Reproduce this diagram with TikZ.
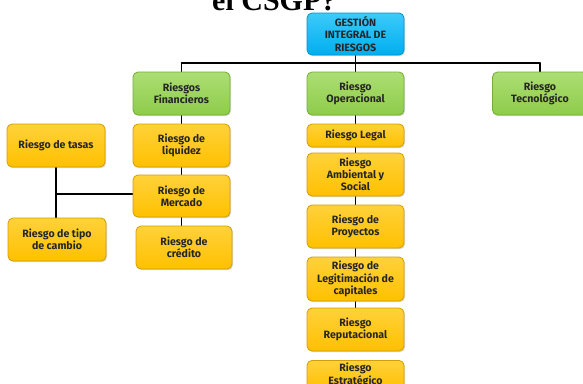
\documentclass[tikz,border=0pt]{standalone}
\usepackage{fontspec}
\setmainfont{Liberation Serif}
\newfontfamily\cajafont{Fira Sans}
\usetikzlibrary{shadows}
\definecolor{azulA}{HTML}{3CCBFA}
\definecolor{azulB}{HTML}{00AEEF}
\definecolor{azulC}{HTML}{0095CC}
\definecolor{verdeA}{HTML}{ACDE74}
\definecolor{verdeB}{HTML}{8ECC4A}
\definecolor{verdeC}{HTML}{74AE34}
\definecolor{amaA}{HTML}{FFD23A}
\definecolor{amaB}{HTML}{FFC000}
\definecolor{amaC}{HTML}{D49E00}
\begin{document}
\begin{tikzpicture}[x=1pt,y=-1pt,line join=round,line cap=round,
	caja/.style={rounded corners=5pt,line width=0.8pt,align=center,inner sep=1pt,
		minimum width=97pt,minimum height=43pt,text=black!85,
		font=\cajafont\bfseries\fontsize{10.6}{12.2}\selectfont,
		drop shadow={opacity=0.3,shadow xshift=1pt,shadow yshift=-1.2pt}},
	azul/.style={caja,draw=azulC,top color=azulA,bottom color=azulB},
	verde/.style={caja,draw=verdeC,top color=verdeA,bottom color=verdeB},
	amarillo/.style={caja,draw=amaC,top color=amaA,bottom color=amaB},
	linea/.style={line width=1.4pt,black}]
	\useasboundingbox (0,0) rectangle (583,383);
	\def\bus{63}
	% titulo (cortado arriba)
	\node[anchor=base west,inner sep=0pt,font=\fontsize{30}{31}\selectfont\bfseries] (titulo) at (212,10) {el CSGP?};
	% lineas
	\coordinate (bi) at (181.5,\bus);
	\coordinate (bd) at (540,\bus);
	\coordinate (bc) at (355.5,\bus);
	\draw[linea] (bi)--(bd);
	\draw[linea] (bc)--(355.5,30);
	\draw[linea] (bi)--(181.5,250);
	\draw[linea] (bd)--(540,95);
	\draw[linea] (355.5,\bus)--(355.5,330);
	\draw[linea] (56,146)--(56,240);
	\coordinate (tm) at (56,194);
	\draw[linea] (tm)--(181.5,194);
	% cajas
	\node[azul,minimum height=42pt] (gir) at (355.5,34) {GESTIÓN\\INTEGRAL DE\\RIESGOS};
	\node[verde] (fin) at (181.5,93.5) {Riesgos\\Financieros};
	\node[verde] (ope) at (355.5,93.5) {Riesgo\\Operacional};
	\node[verde,minimum width=95pt] (tec) at (540,93.5) {Riesgo\\Tecnológico};
	\node[amarillo] (liq) at (181.5,145.5) {Riesgo de\\liquidez};
	\node[amarillo,minimum height=42pt] (mer) at (181.5,196) {Riesgo de\\Mercado};
	\node[amarillo,minimum width=96pt] (cre) at (184,247.5) {Riesgo de\\crédito};
	\node[amarillo,minimum width=98pt] (tas) at (56,145.5) {Riesgo de tasas};
	\node[amarillo,minimum width=98pt] (tip) at (57,239.5) {Riesgo de tipo\\de cambio};
	\node[amarillo,minimum height=23pt] (leg) at (355.5,135.5) {Riesgo Legal};
	\node[amarillo] (amb) at (355.5,174.5) {Riesgo\\Ambiental y\\Social};
	\node[amarillo] (pro) at (355.5,226.5) {Riesgo de\\Proyectos};
	\node[amarillo,minimum height=44pt] (legi) at (355.5,279) {Riesgo de\\Legitimación de\\capitales};
	\node[amarillo] (rep) at (355.5,329.5) {Riesgo\\Reputacional};
	\node[amarillo,anchor=north,minimum height=29pt] (est) at (355.5,360) {Riesgo\\Estratégico};
\end{tikzpicture}
\end{document}
